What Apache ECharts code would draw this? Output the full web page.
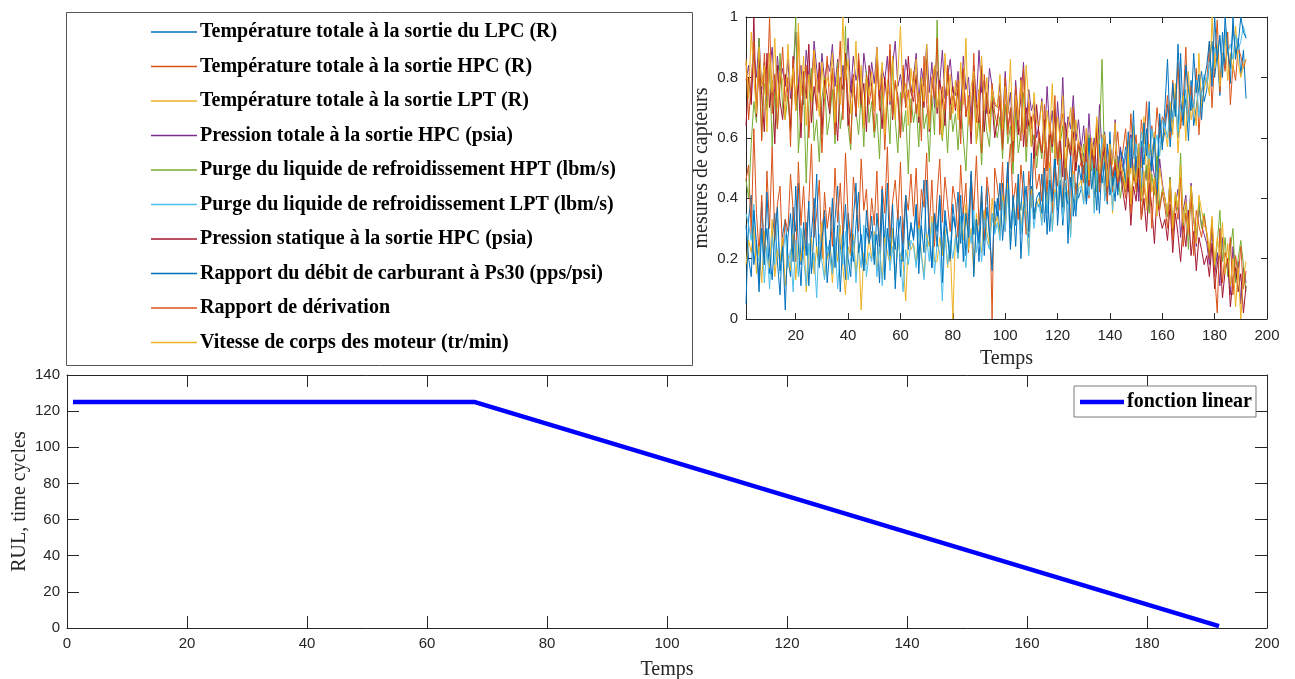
<!DOCTYPE html>
<html><head><meta charset="utf-8">
<script src="https://cdn.jsdelivr.net/npm/echarts@6/dist/echarts.min.js"></script>
<style>html,body{margin:0;padding:0;background:#fff}#c{width:1295px;height:679px}</style>
</head><body><div id="c"></div>
<script>
const SENSOR_NAMES = [
  'Température totale à la sortie du LPC (R)',
  'Température totale à la sortie HPC (R)',
  'Température totale à la sortie LPT (R)',
  'Pression totale à la sortie HPC (psia)',
  'Purge du liquide de refroidissement HPT (lbm/s)',
  'Purge du liquide de refroidissement LPT (lbm/s)',
  'Pression statique à la sortie HPC (psia)',
  'Rapport du débit de carburant à Ps30 (pps/psi)',
  'Rapport de dérivation',
  'Vitesse de corps des moteur (tr/min)'
];
const S1 = [
.05,.33,.41,.18,.26,.12,.39,.22,.30,.15,.27,.35,.19,.08,.28,.33,
.21,.14,.37,.29,.45,.18,.24,.32,.11,.28,.40,.23,.17,.30,.36,.20,
.26,.15,.33,.44,.22,.29,.13,.35,.27,.19,.31,.42,.24,.16,.30,.25,
.34,.21,.28,.12,.37,.26,.45,.19,.30,.23,.36,.14,.29,.40,.25,.31,
.27,.38,.20,.33,.46,.24,.31,.17,.35,.29,.41,.22,.36,.28,.19,.34,
.30,.42,.25,.37,.21,.34,.48,.28,.33,.19,.39,.31,.44,.26,.35,.29,
.40,.28,.45,.33,.51,.30,.38,.24,.42,.36,.49,.31,.27,.44,.35,.39,
.37,.48,.32,.44,.29,.41,.53,.36,.46,.31,.42,.38,.55,.34,.45,.40,
.43,.51,.38,.47,.56,.40,.49,.35,.52,.44,.58,.41,.47,.39,.54,.46,
.50,.57,.45,.61,.48,.54,.42,.59,.51,.63,.47,.55,.60,.49,.66,.58,
.62,.71,.57,.68,.75,.60,.88,.66,.73,.59,.79,.64,.70,.77,.82,.72,
.76,.85,.92,.80,.88,.74,.95,.83,.90,.78,1.0,.86,.93,.81,.89,.73];
const S2 = [
.46,.51,.28,.63,.35,.22,.41,.18,.49,.30,.57,.26,.38,.44,.21,.33,
.29,.48,.36,.19,.52,.31,.44,.25,.39,.58,.27,.35,.46,.20,.42,.30,
.37,.24,.50,.32,.45,.28,.55,.34,.21,.47,.38,.29,.53,.36,.43,.26,
.40,.31,.49,.22,.44,.35,.57,.27,.39,.46,.33,.52,.25,.41,.36,.48,
.34,.50,.28,.43,.37,.55,.30,.46,.24,.41,.53,.32,.47,.38,.29,.44,
.39,.27,.51,.35,.45,.22,.48,.36,.54,.31,.42,.26,.47,.40,.00,.50,
.44,.36,.52,.29,.47,.58,.38,.45,.33,.51,.41,.28,.49,.37,.55,.43,
.48,.39,.56,.42,.61,.35,.50,.44,.58,.38,.53,.46,.32,.57,.41,.49,
.52,.45,.60,.40,.55,.48,.63,.43,.51,.57,.46,.59,.42,.54,.62,.50,
.56,.63,.49,.68,.54,.61,.47,.66,.58,.72,.52,.64,.57,.70,.60,.67,
.65,.74,.60,.79,.68,.85,.63,.72,.90,.66,.77,.70,.83,.61,.75,.80,
.78,.92,.70,.86,.99,.75,.88,.82,.95,.71,.84,.79,.90,.87,.83,.86];
const S3 = [
.18,.26,.22,.31,.15,.24,.12,.29,.20,.17,.33,.14,.23,.19,.27,.11,
.21,.16,.28,.13,.25,.19,.30,.09,.22,.27,.15,.24,.18,.32,.14,.20,
.23,.12,.26,.19,.31,.17,.08,.24,.21,.28,.15,.25,.03,.22,.18,.27,
.20,.29,.16,.24,.13,.27,.22,.18,.30,.14,.25,.21,.19,.06,.26,.23,
.25,.18,.31,.22,.14,.28,.24,.34,.19,.19,.27,.21,.30,.17,.25,.00,
.28,.20,.33,.26,.38,.23,.30,.15,.35,.27,.22,.36,.29,.24,.40,.31,
.34,.27,.41,.30,.45,.25,.37,.32,.48,.29,.39,.35,.22,.43,.33,.38,
.40,.32,.47,.36,.52,.30,.43,.38,.55,.34,.45,.41,.28,.49,.37,.44,
.46,.39,.53,.42,.58,.36,.50,.44,.61,.40,.48,.55,.35,.52,.43,.47,
.51,.44,.59,.48,.64,.42,.56,.50,.67,.46,.58,.53,.62,.49,.55,.60,
.63,.57,.72,.61,.78,.55,.68,.74,.59,.82,.66,.71,.64,.88,.70,.76,
.80,.74,1.0,.83,.91,.77,.86,.94,.79,.88,.82,.97,.85,.80,.84,.86];
const S4 = [
.79,.84,.72,.88,.80,.93,.76,.85,.70,.82,.90,.74,.87,.78,.83,.77,
.86,.73,.81,.95,.78,.84,.71,.89,.80,.76,.92,.83,.75,.88,.79,.85,
.82,.91,.77,.86,.72,.84,.80,.93,.75,.87,.79,.83,.70,.88,.81,.76,
.85,.78,.90,.73,.83,.79,.87,.71,.84,.92,.77,.81,.74,.86,.80,.75,
.80,.88,.72,.83,.77,.91,.75,.85,.70,.82,.78,.89,.73,.80,.86,.76,
.74,.82,.69,.87,.76,.80,.66,.84,.72,.89,.75,.79,.68,.83,.77,.71,
.70,.78,.64,.82,.68,.75,.61,.79,.66,.73,.85,.63,.76,.69,.72,.60,
.65,.73,.58,.77,.62,.69,.55,.72,.60,.80,.57,.67,.63,.74,.59,.66,
.56,.64,.50,.68,.53,.60,.47,.71,.55,.62,.49,.58,.52,.66,.48,.57,
.49,.55,.42,.61,.46,.52,.39,.57,.44,.50,.36,.54,.47,.41,.53,.45,
.40,.34,.47,.30,.38,.43,.27,.36,.41,.29,.45,.33,.24,.37,.31,.28,
.25,.18,.30,.14,.22,.11,.27,.16,.20,.08,.24,.13,.19,.05,.17,.12];
const S5 = [
.46,.40,.58,.72,.65,.93,.60,.78,.69,.84,.57,.75,.63,.88,.70,.66,
.74,.62,.81,1.0,.55,.68,.77,.45,.71,.83,.59,.66,.52,.73,.80,.61,
.67,.76,.58,.85,.63,.70,.97,.64,.56,.79,.69,.61,.74,.57,.82,.65,
.72,.60,.68,.53,.77,.64,.71,.58,.86,.66,.55,.75,.62,.69,.48,.73,
.65,.71,.57,.80,.63,.68,.52,.74,.61,.99,.66,.59,.70,.55,.73,.62,
.68,.56,.72,.60,.49,.69,.63,.77,.58,.66,.51,.71,.62,.57,.74,.64,
.60,.67,.53,.71,.58,.64,.48,.69,.55,.62,.75,.52,.66,.57,.61,.50,
.59,.53,.66,.49,.62,.55,.70,.51,.58,.64,.46,.60,.54,.68,.50,.57,
.52,.58,.45,.61,.49,.55,.42,.59,.86,.50,.46,.57,.44,.53,.48,.40,
.47,.42,.53,.38,.49,.44,.56,.39,.45,.51,.35,.48,.41,.54,.37,.43,
.40,.34,.47,.29,.41,.36,.55,.31,.38,.23,.44,.33,.27,.39,.30,.35,
.28,.21,.32,.17,.25,.36,.19,.27,.14,.23,.30,.12,.20,.26,.18,.09];
const S6 = [
.35,.31,.26,.38,.22,.19,.29,.12,.24,.10,.27,.18,.33,.15,.21,.28,
.17,.23,.09,.26,.14,.30,.20,.11,.25,.16,.22,.07,.28,.19,.13,.24,
.21,.15,.27,.10,.23,.18,.29,.13,.20,.26,.12,.24,.17,.31,.14,.22,
.19,.28,.14,.25,.11,.22,.30,.16,.24,.13,.27,.20,.09,.23,.18,.26,
.24,.17,.30,.21,.13,.27,.19,.32,.15,.25,.22,.06,.28,.18,.26,.20,
.27,.20,.34,.24,.17,.31,.25,.36,.22,.29,.19,.33,.26,.23,.35,.28,
.32,.26,.39,.29,.43,.24,.36,.31,.45,.28,.38,.34,.21,.41,.30,.37,
.38,.31,.46,.35,.50,.29,.42,.37,.53,.33,.44,.40,.27,.48,.36,.43,
.44,.38,.52,.41,.57,.35,.49,.43,.60,.39,.47,.54,.36,.51,.42,.46,
.50,.56,.46,.60,.53,.58,.49,.62,.55,.59,.52,.63,.57,.61,.54,.66,
.64,.60,.69,.66,.73,.62,.71,.68,.76,.65,.74,.70,.79,.67,.75,.81,
.78,.85,.82,.90,.87,.93,.84,.96,.88,.91,.86,.94,.89,.92,.97,.93];
const S7 = [
.64,.80,.71,1.0,.67,.86,.74,.62,.88,.70,.79,.58,.84,.72,.66,.81,
.75,.63,.87,.69,.78,.60,.82,.73,.91,.65,.77,.70,.85,.61,.79,.74,
.68,.83,.72,.59,.80,.76,.88,.64,.73,.81,.67,.86,.71,.78,.62,.84,
.77,.69,.85,.73,.63,.80,.71,.89,.66,.78,.74,.60,.83,.70,.87,.75,
.72,.81,.65,.78,.70,.86,.62,.76,.83,.68,.79,.73,.64,.84,.71,.77,
.69,.76,.63,.82,.67,.73,.58,.79,.71,.65,.84,.62,.75,.68,.72,.60,
.66,.72,.58,.77,.63,.69,.55,.74,.61,.80,.57,.70,.64,.67,.53,.71,
.60,.55,.66,.50,.63,.57,.69,.52,.61,.47,.65,.58,.54,.62,.49,.59,
.53,.48,.59,.44,.56,.50,.62,.45,.52,.57,.41,.54,.47,.51,.43,.49,
.42,.36,.47,.31,.44,.39,.50,.33,.40,.29,.45,.37,.25,.41,.34,.30,
.33,.26,.38,.22,.35,.28,.19,.31,.24,.36,.21,.29,.16,.27,.23,.18,
.21,.14,.25,.10,.18,.22,.07,.16,.20,.04,.13,.17,.09,.15,.02,.11];
const S8 = [
.31,.20,.14,.36,.25,.09,.30,.18,.42,.22,.13,.28,.37,.16,.24,.03,
.27,.35,.19,.44,.24,.11,.32,.21,.39,.15,.29,.48,.18,.26,.34,.12,
.23,.40,.17,.31,.09,.26,.38,.20,.14,.33,.45,.22,.28,.16,.36,.25,
.29,.18,.35,.24,.43,.13,.30,.21,.38,.10,.27,.34,.19,.41,.23,.32,
.26,.37,.15,.31,.22,.46,.28,.17,.35,.24,.40,.12,.33,.27,.20,.38,
.30,.22,.41,.19,.35,.27,.49,.14,.33,.25,.44,.21,.37,.29,.16,.39,
.34,.45,.26,.38,.52,.23,.41,.31,.48,.20,.36,.44,.29,.55,.33,.40,
.42,.35,.50,.28,.46,.39,.57,.31,.44,.37,.53,.25,.47,.40,.34,.51,
.46,.55,.39,.60,.43,.50,.36,.58,.45,.52,.38,.62,.44,.49,.41,.56,
.53,.45,.62,.50,.69,.47,.58,.41,.65,.54,.72,.49,.60,.38,.68,.56,
.70,.86,.62,.78,.67,.91,.73,.64,.84,.76,.69,.88,.75,.81,.66,.79,
.84,.92,.77,1.0,.86,.94,.80,1.0,.89,.83,.97,.88,.91,1.0,.95,.93];
const S9 = [
.85,.66,.78,.92,.70,.83,.59,.88,.74,1.0,.68,.81,.63,.77,.90,.72,
.80,.57,.86,.71,.95,.65,.79,.84,.60,.76,.89,.69,.82,.55,.74,.87,
.70,.83,.61,.78,.92,.66,.85,.73,.58,.80,.68,.88,.75,.64,.81,.71,
.77,.62,.86,.69,.80,.56,.74,.91,.67,.79,.72,.60,.84,.70,.76,.65,
.82,.68,.75,.59,.87,.71,.64,.80,.73,.93,.61,.77,.69,.84,.66,.74,
.70,.79,.58,.83,.67,.74,.62,.88,.65,.76,.55,.81,.71,.63,.78,.68,
.64,.74,.56,.80,.61,.70,.52,.77,.66,.59,.83,.57,.72,.63,.68,.54,
.62,.55,.71,.49,.65,.58,.74,.51,.63,.68,.46,.60,.56,.70,.52,.59,
.55,.48,.63,.44,.58,.51,.66,.42,.54,.60,.39,.57,.47,.52,.45,.50,
.46,.40,.52,.35,.48,.43,.55,.33,.44,.38,.50,.30,.47,.41,.36,.42,
.37,.30,.43,.26,.39,.33,.47,.24,.35,.29,.41,.21,.36,.31,.27,.34,
.28,.20,.33,.15,.02,.30,.12,.22,.18,.27,.08,.21,.14,.24,.10,.16];
const S10 = [
.86,.73,.95,.80,.68,.90,.77,.84,.62,.88,.75,.93,.70,.82,.79,.66,
.91,.76,.83,.69,.98,.74,.87,.64,.81,.72,.89,.78,.67,.85,.73,.80,
.77,.88,.65,.83,.71,1.0,.79,.86,.68,.75,.92,.70,.84,.63,.80,.74,
.82,.69,.90,.76,.85,.61,.79,.72,.87,.66,.81,.97,.73,.78,.64,.83,
.75,.86,.67,.80,.72,.91,.63,.78,.84,.70,.76,.60,.88,.74,.81,.68,
.79,.66,.85,.71,.93,.64,.77,.82,.58,.74,.87,.69,.80,.62,.76,.72,
.70,.81,.63,.77,.68,.86,.59,.74,.66,.79,.61,.84,.72,.57,.75,.65,
.64,.72,.56,.69,.61,.78,.53,.67,.59,.74,.50,.63,.70,.55,.66,.58,
.57,.52,.63,.46,.60,.54,.67,.48,.56,.61,.44,.58,.51,.65,.47,.53,
.48,.43,.55,.38,.51,.45,.58,.40,.49,.36,.53,.42,.47,.34,.50,.44,
.40,.35,.46,.30,.42,.37,.51,.32,.39,.28,.44,.34,.25,.41,.36,.31,
.29,.23,.34,.18,.27,.21,.32,.15,.25,.11,.20,.04,.17,.00,.14,.19];
const SENSORS = [S1,S2,S3,S4,S5,S6,S7,S8,S9,S10];
const TOP_X_TICKS = [20,40,60,80,100,120,140,160,180,200];
const RUL_NAME = 'fonction linear';
const RUL_T = [1, 68, 192];
const RUL_V = [125, 125, 1];

const COLORS = ['#0072BD','#D95319','#EDB120','#7E2F8E','#77AC30','#4DBEEE','#A2142F','#0072BD','#D95319','#EDB120'];
const AX = '#262626';
const SERIF = '"Liberation Serif", "DejaVu Serif", serif';
const SANS = '"Liberation Sans", Arial, sans-serif';

const chart = echarts.init(document.getElementById('c'), null, {renderer: 'canvas'});

function axBase(extra) {
  return Object.assign({
    axisLine: {show: true, onZero: false, lineStyle: {color: AX, width: 1}},
    splitLine: {show: false},
    axisLabel: {color: AX, fontFamily: SANS, fontSize: 15},
    nameTextStyle: {color: AX, fontFamily: SERIF, fontSize: 20}
  }, extra);
}

const series = SENSORS.map((arr, k) => ({
  name: SENSOR_NAMES[k],
  type: 'line',
  xAxisIndex: 0, yAxisIndex: 0,
  data: arr.map((v, i) => [i + 1, v]),
  showSymbol: false, symbol: 'none',
  lineStyle: {width: 1, color: COLORS[k]},
  itemStyle: {color: COLORS[k]},
  clip: true, silent: true
}));
series.push({
  name: RUL_NAME, type: 'line', xAxisIndex: 2, yAxisIndex: 2,
  data: RUL_T.map((t, i) => [t, RUL_V[i]]),
  showSymbol: false, symbol: 'none',
  lineStyle: {width: 4.5, color: '#0000FF'}, itemStyle: {color: '#0000FF'}
});

const option = {
  animation: false,
  backgroundColor: '#fff',
  grid: [
    {left: 746, top: 17, width: 521, height: 302, outerBoundsMode: 'none', containLabel: false},
    {left: 67, top: 375, width: 1200, height: 253, outerBoundsMode: 'none', containLabel: false}
  ],
  xAxis: [
    axBase({gridIndex: 0, type: 'value', min: 1, max: 200, position: 'bottom',
      name: 'Temps', nameLocation: 'middle', nameGap: 30,
      axisTick: {inside: true, length: 6, lineStyle: {color: AX}, customValues: TOP_X_TICKS},
      axisLabel: {color: AX, fontFamily: SANS, fontSize: 15, margin: 9, customValues: TOP_X_TICKS}}),
    axBase({gridIndex: 0, type: 'value', min: 1, max: 200, position: 'top',
      axisTick: {inside: true, length: 6, lineStyle: {color: AX}, customValues: TOP_X_TICKS},
      axisLabel: {show: false}}),
    axBase({gridIndex: 1, type: 'value', min: 0, max: 200, interval: 20, position: 'bottom',
      name: 'Temps', nameLocation: 'middle', nameGap: 32,
      axisTick: {inside: true, length: 12, lineStyle: {color: AX}},
      axisLabel: {color: AX, fontFamily: SANS, fontSize: 15, margin: 8}}),
    axBase({gridIndex: 1, type: 'value', min: 0, max: 200, interval: 20, position: 'top',
      axisTick: {inside: true, length: 12, lineStyle: {color: AX}},
      axisLabel: {show: false}})
  ],
  yAxis: [
    axBase({gridIndex: 0, type: 'value', min: 0, max: 1, interval: 0.2, position: 'left',
      name: 'mesures de capteurs', nameLocation: 'middle', nameGap: 34, nameMoveOverlap: false,
      axisTick: {inside: true, length: 6, lineStyle: {color: AX}},
      axisLabel: {color: AX, fontFamily: SANS, fontSize: 15, margin: 8}}),
    axBase({gridIndex: 0, type: 'value', min: 0, max: 1, interval: 0.2, position: 'right',
      axisTick: {inside: true, length: 6, lineStyle: {color: AX}},
      axisLabel: {show: false}}),
    axBase({gridIndex: 1, type: 'value', min: 0, max: 140, interval: 20, position: 'left',
      name: 'RUL, time cycles', nameLocation: 'middle', nameGap: 37, nameMoveOverlap: false,
      axisTick: {inside: true, length: 12, lineStyle: {color: AX}},
      axisLabel: {color: AX, fontFamily: SANS, fontSize: 15, margin: 7}}),
    axBase({gridIndex: 1, type: 'value', min: 0, max: 140, interval: 20, position: 'right',
      axisTick: {inside: true, length: 12, lineStyle: {color: AX}},
      axisLabel: {show: false}})
  ],
  legend: [
    {
      data: SENSOR_NAMES, orient: 'vertical', left: 146, top: 17,
      icon: 'rect', itemWidth: 46, itemHeight: 1.5, itemGap: 14.5,
      selectedMode: false,
      textStyle: {color: '#000', fontFamily: SERIF, fontWeight: 'bold', fontSize: 20, lineHeight: 20, padding: [0,0,0,-2]}
    },
    {
      data: [RUL_NAME], orient: 'horizontal', left: 1074, top: 386,
      icon: 'rect', itemWidth: 44, itemHeight: 4.5, itemGap: 0,
      selectedMode: false, backgroundColor: '#fff', borderColor: '#7a7a7a', borderWidth: 1,
      padding: [6, 4, 5, 6],
      textStyle: {color: '#000', fontFamily: SERIF, fontWeight: 'bold', fontSize: 20, padding: [0,0,0,-2]}
    }
  ],
  graphic: [
    {type: 'rect', left: 66, top: 12, z: -1, shape: {width: 626, height: 353},
     style: {fill: '#fff', stroke: '#555', lineWidth: 1}}
  ],
  series: series
};
chart.setOption(option);
</script></body></html>
